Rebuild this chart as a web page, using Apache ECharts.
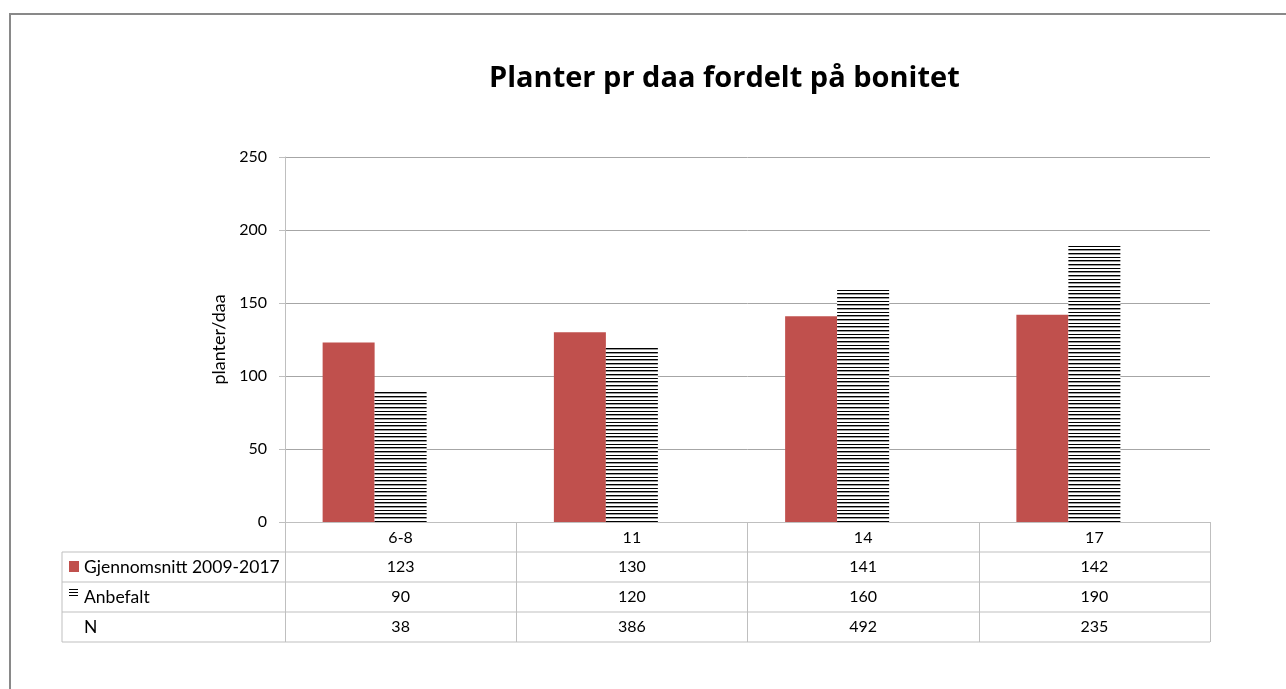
<!DOCTYPE html>
<html>
<head>
<meta charset="utf-8">
<script src="https://cdn.jsdelivr.net/npm/echarts@6/dist/echarts.min.js"></script>
<style>html,body{margin:0;background:#fff}#main{width:1286px;height:689px}</style>
</head>
<body>
<div id="main"></div>
<script>
var categories = ['6-8', '11', '14', '17'];
var gjennomsnitt = [123, 130, 141, 142];
var anbefalt = [90, 120, 160, 190];
var antall = [38, 386, 492, 235];
var rowNames = ['Gjennomsnitt 2009-2017', 'Anbefalt', 'N'];

var myChart = echarts.init(document.getElementById('main'));

// horisontale striper (Anbefalt)
var hatch = document.createElement('canvas');
hatch.width = 4;
hatch.height = 11;
var ctx = hatch.getContext('2d');
ctx.fillStyle = '#fff';
ctx.fillRect(0, 0, 4, 11);
ctx.fillStyle = '#000';
ctx.fillRect(0, 0, 4, 1);
ctx.fillRect(0, 4, 4, 1);
ctx.fillRect(0, 7, 4, 1);
ctx.fillStyle = '#999';
ctx.fillRect(0, 1, 4, 1);
ctx.fillRect(0, 8, 4, 1);
var hatchFill = { image: hatch, repeat: 'repeat' };

var font = 'Lato';
var gridLeft = 285, gridRight = 76, gridTop = 157, gridBottom = 167;
var rowTop = 552, rowH = 30, tableLeft = 62;

option = {
    backgroundColor: '#fff',
    animation: false,
    title: {
        text: 'Planter pr daa fordelt på bonitet',
        left: 484,
        top: 59,
        textStyle: { fontFamily: 'Open Sans', fontSize: 29, fontWeight: 'bold', color: '#000' }
    },
    grid: { left: gridLeft, right: gridRight, top: gridTop, bottom: gridBottom },
    xAxis: {
        type: 'category',
        data: categories,
        axisLine: { lineStyle: { color: '#bfbfbf' } },
        axisTick: { show: true, alignWithLabel: false, length: 120, lineStyle: { color: '#bfbfbf' } },
        axisLabel: { fontFamily: font, fontSize: 16, color: '#000', margin: 8 }
    },
    yAxis: {
        type: 'value',
        min: 0,
        max: 250,
        interval: 50,
        name: 'planter/daa',
        nameLocation: 'middle',
        nameGap: 55,
        nameTextStyle: { fontFamily: font, fontSize: 18, color: '#000' },
        axisLine: { show: true, lineStyle: { color: '#bfbfbf' } },
        axisTick: { show: true, length: 6, lineStyle: { color: '#bfbfbf' } },
        axisLabel: { fontFamily: font, fontSize: 16, color: '#000', margin: 18 },
        splitLine: { lineStyle: { color: '#a6a6a6' } }
    },
    series: [
        {
            name: rowNames[0],
            type: 'bar',
            barWidth: 52,
            barGap: '0%',
            data: gjennomsnitt,
            itemStyle: { color: '#C0504D' }
        },
        {
            name: rowNames[1],
            type: 'bar',
            barWidth: 52,
            data: anbefalt,
            itemStyle: { color: hatchFill }
        },
        {
            // N ligger i tabellen, søylen er usynlig (som i Excel)
            name: rowNames[2],
            type: 'bar',
            barWidth: 52,
            silent: true,
            data: antall,
            itemStyle: { color: 'transparent' }
        }
    ]
};

myChart.setOption(option);

// datatabell under aksen
var tableRight = 1286 - gridRight;
var g = [];
g.push({ type: 'line', shape: { x1: 9, y1: 14, x2: 1286, y2: 14 }, style: { stroke: '#898989', lineWidth: 2 } });
g.push({ type: 'line', shape: { x1: 10, y1: 14, x2: 10, y2: 689 }, style: { stroke: '#898989', lineWidth: 2 } });
for (var i = 0; i <= rowNames.length; i++) {
    var y = rowTop + i * rowH;
    g.push({ type: 'line', shape: { x1: tableLeft, y1: y, x2: tableRight, y2: y }, style: { stroke: '#bfbfbf', lineWidth: 1 } });
}
g.push({ type: 'line', shape: { x1: tableLeft, y1: rowTop, x2: tableLeft, y2: rowTop + rowNames.length * rowH }, style: { stroke: '#bfbfbf', lineWidth: 1 } });

var rows = [gjennomsnitt, anbefalt, antall];
rows.forEach(function (vals, r) {
    var cy = rowTop + r * rowH + rowH / 2;
    g.push({ type: 'text', x: 84, y: cy, style: { text: rowNames[r], font: '17.5px Lato', fill: '#000', textVerticalAlign: 'middle' } });
    vals.forEach(function (v, c) {
        var cx = myChart.convertToPixel({ xAxisIndex: 0 }, categories[c]);
        g.push({ type: 'text', x: cx, y: cy, style: { text: String(v), font: '16px Lato', fill: '#000', textAlign: 'center', textVerticalAlign: 'middle' } });
    });
});
// legendenøkler
g.push({ type: 'rect', shape: { x: 69, y: 561, width: 10, height: 11 }, style: { fill: '#C0504D' } });
[589, 592, 595].forEach(function (ly) {
    g.push({ type: 'line', shape: { x1: 69, y1: ly + 0.5, x2: 78, y2: ly + 0.5 }, style: { stroke: '#000', lineWidth: 1 } });
});

myChart.setOption({ graphic: g });
</script>
</body>
</html>
